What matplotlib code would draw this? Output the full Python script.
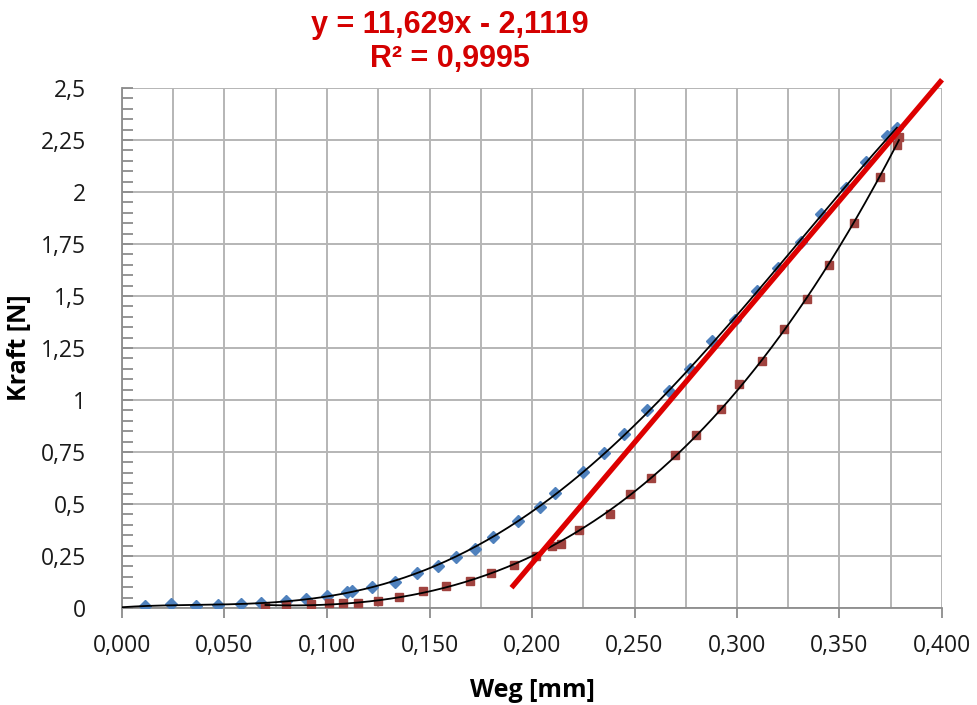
import numpy as np
import matplotlib
matplotlib.use("Agg")
import matplotlib.pyplot as plt
from matplotlib.ticker import MultipleLocator, FuncFormatter

# ---- data ----
blue_x = [0.011, 0.024, 0.036, 0.047, 0.058, 0.068, 0.080, 0.090, 0.100, 0.110,
          0.112, 0.122, 0.133, 0.144, 0.154, 0.163, 0.172, 0.181, 0.193, 0.204,
          0.211, 0.225, 0.235, 0.245, 0.256, 0.267, 0.277, 0.288, 0.299, 0.310,
          0.320, 0.331, 0.341, 0.353, 0.363, 0.373, 0.376, 0.378]
blue_y = [0.010, 0.020, 0.010, 0.015, 0.020, 0.025, 0.034, 0.043, 0.058, 0.077,
          0.082, 0.100, 0.125, 0.168, 0.200, 0.245, 0.284, 0.340, 0.418, 0.486,
          0.553, 0.654, 0.745, 0.837, 0.950, 1.043, 1.149, 1.284, 1.385, 1.524,
          1.635, 1.760, 1.894, 2.019, 2.144, 2.269, 2.280, 2.308]

red_x = [0.070, 0.080, 0.092, 0.101, 0.108, 0.115, 0.125, 0.135, 0.147, 0.158,
         0.170, 0.180, 0.191, 0.202, 0.210, 0.214, 0.223, 0.238, 0.248, 0.258,
         0.270, 0.280, 0.292, 0.301, 0.312, 0.323, 0.334, 0.345, 0.357, 0.370,
         0.378, 0.379]
red_y = [0.005, 0.010, 0.020, 0.024, 0.024, 0.024, 0.034, 0.053, 0.082, 0.106,
         0.130, 0.168, 0.207, 0.250, 0.298, 0.310, 0.375, 0.452, 0.548, 0.625,
         0.736, 0.832, 0.957, 1.077, 1.187, 1.341, 1.486, 1.649, 1.851, 2.072,
         2.226, 2.264]

slope = 11.629
intercept = -2.1119
fit_x_range = [0.19, 0.40]

title_text = "y = 11,629x - 2,1119\nR² = 0,9995"
x_label = "Weg [mm]"
y_label = "Kraft [N]"

# ---- figure ----
fig = plt.figure(figsize=(9.78, 7.05), dpi=100)
ax = fig.add_axes([122/978, 1-608/705, (942-122)/978, (608-88)/705])

grid_c = "#b5b5b5"
ax.set_xlim(0, 0.4)
ax.set_ylim(0, 2.5)
ax.xaxis.set_major_locator(MultipleLocator(0.05))
ax.xaxis.set_minor_locator(MultipleLocator(0.025))
ax.yaxis.set_major_locator(MultipleLocator(0.25))
ax.yaxis.set_minor_locator(MultipleLocator(0.05))
ax.grid(True, which="major", axis="both", color=grid_c, lw=1.4, zorder=0)
ax.grid(True, which="minor", axis="x", color=grid_c, lw=1.4, zorder=0)
ax.set_axisbelow(True)

ax.xaxis.set_major_formatter(FuncFormatter(lambda v, p: f"{v:.3f}".replace(".", ",")))
def yfmt(v, p):
    s = f"{v:.2f}".rstrip("0").rstrip(".")
    return s.replace(".", ",")
ax.yaxis.set_major_formatter(FuncFormatter(yfmt))

for s in ["top", "right"]:
    ax.spines[s].set_visible(False)
for s in ["left", "bottom"]:
    ax.spines[s].set_color("#8c8c8c")
    ax.spines[s].set_linewidth(1.3)

ax.tick_params(axis="x", which="major", direction="out", length=7, width=1.3,
               color="#8c8c8c", pad=12, labelsize=16.5, labelcolor="#1a1a1a")
ax.tick_params(axis="x", which="minor", length=0)
ax.tick_params(axis="y", which="both", direction="in", length=8, width=1.3,
               color="#8c8c8c", pad=26, labelsize=16.5, labelcolor="#1a1a1a")
for lab in ax.get_xticklabels() + ax.get_yticklabels():
    lab.set_fontfamily("Open Sans")

# markers
ax.plot(blue_x, blue_y, ls="none", marker="D", ms=6, color="#4f81bd", zorder=3)
ax.plot(red_x, red_y, ls="none", marker="s", ms=6, color="#a0433f", zorder=3)

# polynomial trend lines
bx = np.array(blue_x); by = np.array(blue_y)
pb = np.polyfit(np.concatenate([[0.0], bx]), np.concatenate([[0.0], by]), 4)
xs = np.linspace(0, max(blue_x), 300)
ax.plot(xs, np.clip(np.polyval(pb, xs), 0, None), color="black", lw=1.3, zorder=4)

rx = np.array(red_x); ry = np.array(red_y)
pr = np.polyfit(rx, ry, 3)
xs2 = np.linspace(min(red_x), max(red_x), 300)
ax.plot(xs2, np.clip(np.polyval(pr, xs2), 0, None), color="black", lw=1.3, zorder=4)

# linear fit line
lx = np.array(fit_x_range)
ax.plot(lx, slope*lx + intercept, color="#dd0000", lw=3.8, zorder=5,
        clip_on=False, solid_capstyle="butt")

fig.text(450/978, 1-42/705, title_text, ha="center", va="center",
         fontsize=22, fontweight="bold", color="#d40000",
         family="Liberation Sans", linespacing=1.2)

ax.set_xlabel(x_label, fontsize=18, fontweight="bold", family="Open Sans", labelpad=14)
ax.set_ylabel(y_label, fontsize=18, fontweight="bold", family="Open Sans")
ax.yaxis.set_label_coords((32-122)/820, 0.5)

fig.savefig("out.png", dpi=100)
